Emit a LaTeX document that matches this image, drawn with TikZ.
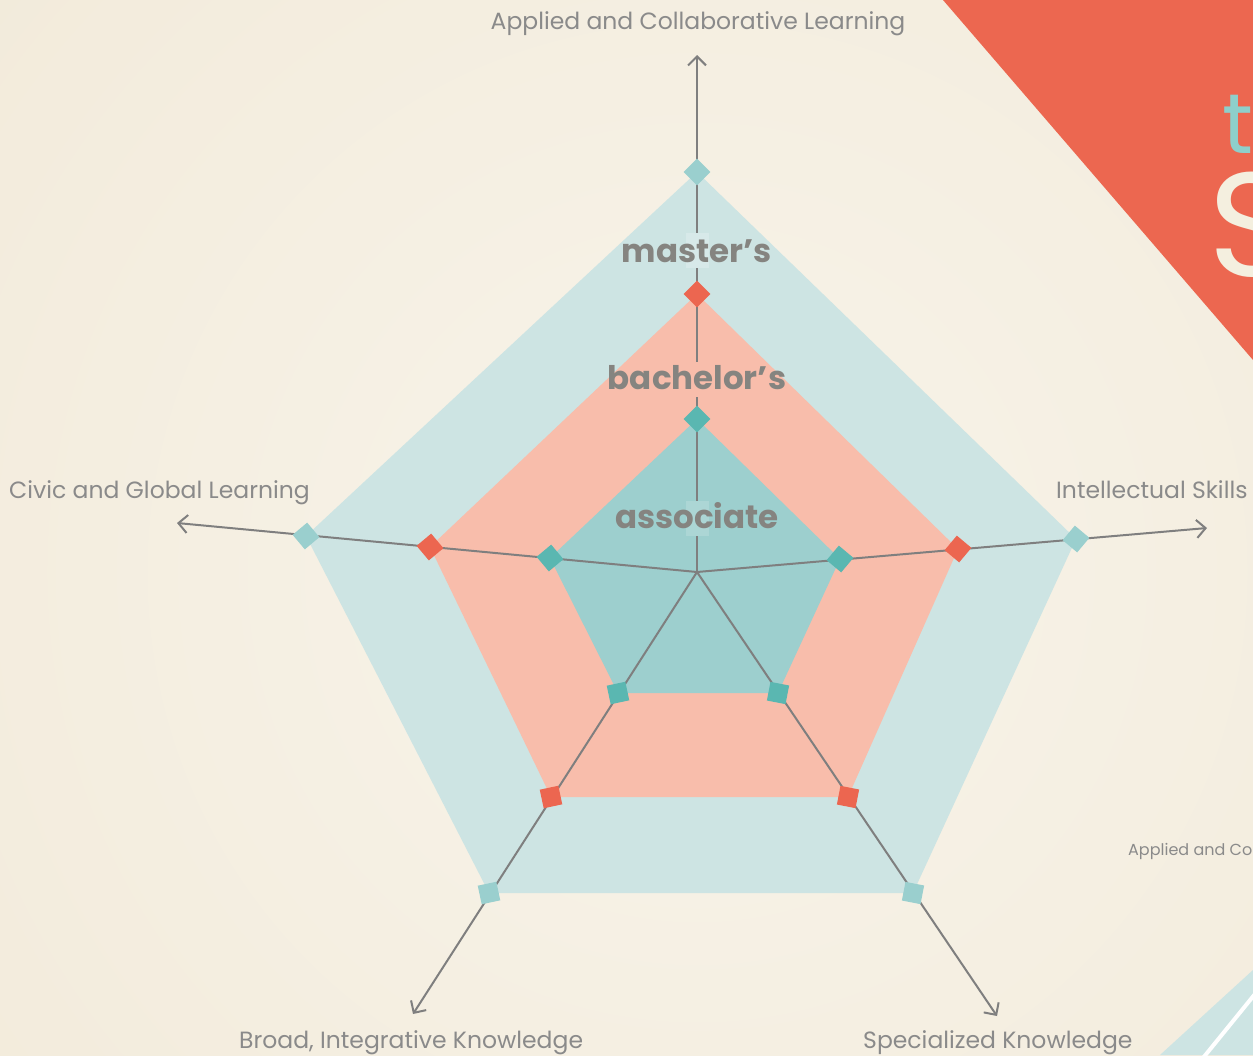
\documentclass[tikz,border=0pt]{standalone}
\usepackage{fontspec}
\setmainfont{Poppins}
\usetikzlibrary{arrows.meta}
\definecolor{bgcream}{HTML}{F1E9D8}
\definecolor{bglight}{HTML}{F8F4EA}
\definecolor{outerfill}{HTML}{CDE4E3}
\definecolor{midfill}{HTML}{F8BDAB}
\definecolor{innerfill}{HTML}{9DCFCE}
\definecolor{mouter}{HTML}{9ACFCE}
\definecolor{mmid}{HTML}{EC6650}
\definecolor{minner}{HTML}{5AB7B1}
\definecolor{axisgray}{HTML}{7F7F7F}
\definecolor{labelgray}{HTML}{8A8A8A}
\definecolor{boldgray}{HTML}{858480}
\definecolor{redc}{HTML}{EC6750}
\definecolor{tteal}{HTML}{8ECFCB}
\definecolor{scream}{HTML}{F4EFDF}
\begin{document}
\begin{tikzpicture}[x=1pt,y=-1pt,
  axisline/.style={draw=axisgray,line width=2pt,-{Straight Barb[length=9pt,width=18pt]}},
  mark3/.style={rectangle,fill=mouter,minimum size=19pt,inner sep=0pt},
  mark2/.style={rectangle,fill=mmid,minimum size=19pt,inner sep=0pt},
  mark1/.style={rectangle,fill=minner,minimum size=19pt,inner sep=0pt},
  axislabel/.style={text=labelgray,inner sep=0pt,font=\fontsize{23.5}{23.5}\selectfont},
  levellabel/.style={text=boldgray,inner sep=0pt,font=\fontsize{32.5}{32.5}\selectfont\bfseries,anchor=base},
  patch/.style={inner sep=0pt,minimum width=23pt,minimum height=35pt}
]
\clip (0,0) rectangle (1253,1055);
\fill[bgcream] (0,0) rectangle (1253,1055);
\shade[inner color=bglight,outer color=bgcream] (697,572) circle (1100);
% top-right corner
\fill[redc] (943,0) -- (1253,0) -- (1253,360) -- cycle;
\node[anchor=base west,inner sep=0pt,text=tteal,font=\fontsize{85}{85}\selectfont] (tt) at (1222,153) {t};
\node[anchor=base west,inner sep=0pt,text=scream,font=\fontsize{148}{148}\selectfont] (ss) at (1208,276) {S};
% bottom-right corner
\fill[outerfill] (1160,1055) -- (1253,970) -- (1253,1055) -- cycle;
\draw[white,line width=4pt] (1203,1058) -- (1255,994);
\node[anchor=base west,inner sep=0pt,text=labelgray,font=\fontsize{16}{16}\selectfont] (small) at (1128,855) {Applied and Co};
% geometry
\coordinate (O) at (697,572);
\coordinate (tA) at (697,55);
\coordinate (tI) at (1207,528);
\coordinate (tS) at (997,1016);
\coordinate (tB) at (413,1014);
\coordinate (tC) at (177,523);
\coordinate (v3A) at (697,172);  \coordinate (v2A) at (697,294);  \coordinate (v1A) at (697,419);
\coordinate (v3I) at (1076,539); \coordinate (v2I) at (958,549);  \coordinate (v1I) at (840,559);
\coordinate (v3S) at (913,893);  \coordinate (v2S) at (848,797);  \coordinate (v1S) at (778,693);
\coordinate (v3B) at (489,893);  \coordinate (v2B) at (551,797);  \coordinate (v1B) at (618,693);
\coordinate (v3C) at (306,536);  \coordinate (v2C) at (430,547);  \coordinate (v1C) at (550,558);
% polygons
\fill[outerfill] (v3A) -- (v3I) -- (v3S) -- (v3B) -- (v3C) -- cycle;
\fill[midfill] (v2A) -- (v2I) -- (v2S) -- (v2B) -- (v2C) -- cycle;
\fill[innerfill] (v1A) -- (v1I) -- (v1S) -- (v1B) -- (v1C) -- cycle;
% axes
\draw[axisline] (O) -- (tA);
\draw[axisline] (O) -- (tI);
\draw[axisline] (O) -- (tS);
\draw[axisline] (O) -- (tB);
\draw[axisline] (O) -- (tC);
% level labels
\node[patch,fill=outerfill!80!white] (pM) at (697.5,250.5) {};
\node[patch,fill=midfill] (pB) at (697.5,379) {};
\node[patch,fill=innerfill!85!white] (pA) at (697.5,518) {};
\node[levellabel] (lM) at (697,262) {master’s};
\node[levellabel] (lB) at (697,389) {bachelor’s};
\node[levellabel] (lA) at (697,528) {associate};
% axis labels
\node[axislabel,anchor=base] (xA) at (698,29) {Applied and Collaborative Learning};
\node[axislabel,anchor=base west] (xI) at (1056,498) {Intellectual Skills};
\node[axislabel,anchor=base west] (xC) at (9,498) {Civic and Global Learning};
\node[axislabel,anchor=base west] (xB) at (239,1048) {Broad, Integrative Knowledge};
\node[axislabel,anchor=base west] (xS) at (863,1048) {Specialized Knowledge};
% markers
\node[mark3,rotate=45] (m3A) at (v3A) {};
\node[mark2,rotate=45] (m2A) at (v2A) {};
\node[mark1,rotate=45] (m1A) at (v1A) {};
\node[mark3,rotate=50] (m3I) at (v3I) {};
\node[mark2,rotate=50] (m2I) at (v2I) {};
\node[mark1,rotate=50] (m1I) at (v1I) {};
\node[mark3,rotate=-11] (m3S) at (v3S) {};
\node[mark2,rotate=-11] (m2S) at (v2S) {};
\node[mark1,rotate=-11] (m1S) at (v1S) {};
\node[mark3,rotate=12] (m3B) at (v3B) {};
\node[mark2,rotate=12] (m2B) at (v2B) {};
\node[mark1,rotate=12] (m1B) at (v1B) {};
\node[mark3,rotate=40] (m3C) at (v3C) {};
\node[mark2,rotate=40] (m2C) at (v2C) {};
\node[mark1,rotate=40] (m1C) at (v1C) {};
\end{tikzpicture}
\end{document}
